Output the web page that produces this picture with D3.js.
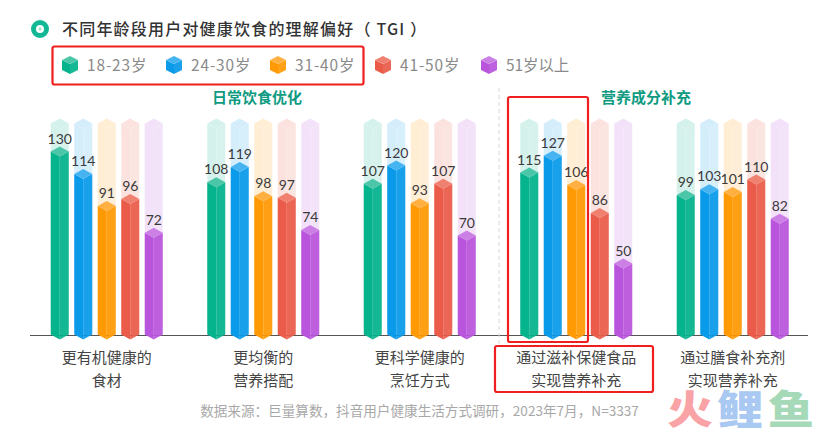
<!DOCTYPE html>
<html><head><meta charset="utf-8">
<script src="https://cdn.jsdelivr.net/npm/d3@7/dist/d3.min.js"></script>
<style>html,body{margin:0;background:#fff}svg{display:block}text{font-family:"Noto Sans CJK SC","Noto Sans",sans-serif}</style>
</head><body><svg id="c" width="836" height="436"></svg>
<script>
const categories=[["更有机健康的","食材"],["更均衡的","营养搭配"],["更科学健康的","烹饪方式"],["通过滋补保健食品","实现营养补充"],["通过膳食补充剂","实现营养补充"]];
const series=["18-23岁","24-30岁","31-40岁","41-50岁","51岁以上"];
const colors=["#05b38c","#0a9aea","#ff9a05","#ea5c49","#b955dc"];
const topColors=["#4cc6a9","#46b4f1","#ffb040","#f0806f","#cc80e6"];
const values=[[130,114,91,96,72],[108,119,98,97,74],[107,120,93,107,70],[115,127,106,86,50],[99,103,101,110,82]];
const maxValue=150;
const svg=d3.select("#c");
const x0=d3.scaleBand().domain(d3.range(categories.length)).range([28.5,811]);
const x1=d3.scalePoint().domain(series).range([-47,47]);
const y=d3.scaleLinear().domain([0,maxValue]).range([338.5,128.5]);
const hw=9,capDrop=5,capFull=10;
const poly=(pts)=>pts.map(p=>p.join(",")).join(" ");
function cube(g,cx,front,bottom,col,top,op){
  const s=g.append("g").attr("opacity",op);
  s.append("polygon").attr("fill",col).attr("points",poly([[cx-hw,front-capDrop],[cx,front],[cx,bottom],[cx-hw,bottom-capDrop]]));
  s.append("polygon").attr("fill",col).attr("opacity",.93).attr("points",poly([[cx+hw,front-capDrop],[cx,front],[cx,bottom],[cx+hw,bottom-capDrop]]));
  s.append("polygon").attr("fill",top).attr("points",poly([[cx,front-capFull],[cx+hw,front-capDrop],[cx,front],[cx-hw,front-capDrop]]));
}
categories.forEach((c,i)=>{
  const g=svg.append("g");
  const cx0=x0(i)+x0.bandwidth()/2;
  series.forEach((s,j)=>cube(g,cx0+x1(s),y(maxValue),y(0)-6,colors[j],colors[j],.17));
});
svg.append("line").attr("x1",30).attr("x2",808).attr("y1",335.5).attr("y2",335.5).attr("stroke","#555").attr("stroke-width",1);
svg.append("line").attr("x1",499).attr("x2",499).attr("y1",88).attr("y2",346).attr("stroke","#d8d8d8").attr("stroke-dasharray","4 3");
categories.forEach((c,i)=>{
  const g=svg.append("g");
  const cx0=x0(i)+x0.bandwidth()/2;
  series.forEach((s,j)=>{
    const cx=cx0+x1(s),v=values[i][j];
    cube(g,cx,y(v),y(0)+1,colors[j],topColors[j],1);
    g.append("text").attr("x",cx).attr("y",y(v)-capFull-3).attr("text-anchor","middle").attr("font-size",14).attr("fill","#3a3a3a").style("font-family","Lato,'Noto Sans',sans-serif").text(v);
  });
  c.forEach((t,k)=>svg.append("text").attr("x",cx0).attr("y",362.5+k*23.5).attr("text-anchor","middle").attr("font-size",15).attr("fill","#444").text(t));
});
svg.append("circle").attr("cx",40).attr("cy",29).attr("r",6.5).attr("fill","#fff").attr("stroke","#12b795").attr("stroke-width",5);
svg.append("circle").attr("cx",40).attr("cy",29).attr("r",1.5).attr("fill","#9fdccf");
svg.append("text").attr("x",62).attr("y",35).attr("font-size",16).attr("letter-spacing",1.2).attr("font-weight",500).attr("fill","#333").attr("xml:space","preserve").text("不同年龄段用户对健康饮食的理解偏好（ TGI ）");
const legendX=[70,174,278,383,489];
series.forEach((s,j)=>{
  const cx=legendX[j],g=svg.append("g");
  g.append("polygon").attr("fill",colors[j]).attr("points",poly([[cx-8,60],[cx,64],[cx,74],[cx-8,70]]));
  g.append("polygon").attr("fill",colors[j]).attr("opacity",.93).attr("points",poly([[cx+8,60],[cx,64],[cx,74],[cx+8,70]]));
  g.append("polygon").attr("fill",topColors[j]).attr("points",poly([[cx,56],[cx+8,60],[cx,64],[cx-8,60]]));
  svg.append("text").attr("x",cx+17).attr("y",71).attr("font-size",15.4).attr("letter-spacing",s.includes("-")?.9:0).attr("fill","#8a8a8a").text(s);
});
[["日常饮食优化",257],["营养成分补充",646]].forEach(d=>svg.append("text").attr("x",d[1]).attr("y",103).attr("text-anchor","middle").attr("font-size",15).attr("font-weight",700).attr("fill","#0f9b82").text(d[0]));
svg.append("text").attr("x",419.5).attr("y",416).attr("text-anchor","middle").attr("font-size",13.6).attr("fill","#a8a8a8").text("数据来源：巨量算数，抖音用户健康生活方式调研，2023年7月，N=3337");
[[52.5,46.5,311,38],[508,97,80,245],[495,346,158,46]].forEach(r=>svg.append("rect").attr("x",r[0]).attr("y",r[1]).attr("width",r[2]).attr("height",r[3]).attr("rx",2).attr("fill","none").attr("stroke","#f01f1f").attr("stroke-width",2.2));
[["火","#f9a3a6",667],["鲤","#a9c8f2",717],["鱼","#a6d9b8",768]].forEach(d=>svg.append("text").attr("transform",`translate(${d[2]},424) scale(1.15,1)`).attr("font-size",40).attr("font-weight",900).attr("fill",d[1]).text(d[0]));
</script></body></html>
